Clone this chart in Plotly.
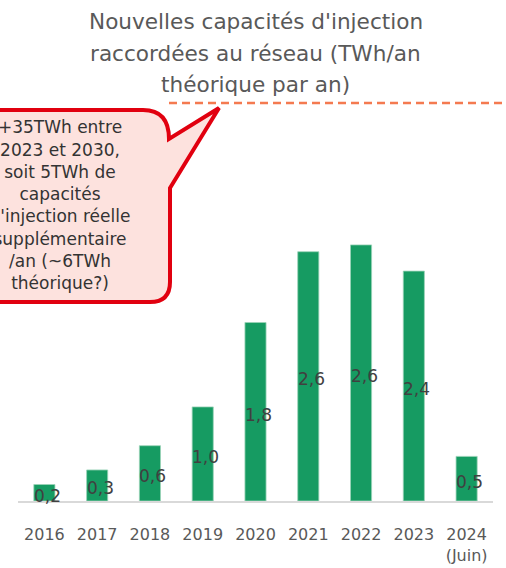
import plotly.graph_objects as go

categories = ["2016", "2017", "2018", "2019", "2020", "2021", "2022", "2023", "2024<br>(Juin)"]
values = [0.17, 0.32, 0.57, 0.97, 1.84, 2.57, 2.64, 2.37, 0.46]
labels = ["0,2", "0,3", "0,6", "1,0", "1,8", "2,6", "2,6", "2,4", "0,5"]
title_lines = ["Nouvelles capacités d'injection", "raccordées au réseau (TWh/an", "théorique par an)"]
callout_lines = ["+35TWh entre", "2023 et 2030,", "soit 5TWh de", "capacités", "d'injection réelle",
                 "supplémentaire", "/an (~6TWh", "théorique?)"]

W, H = 506, 568
PL, PR, PT, PB = 18, 493, 103, 501  # plot area in pixels
FONT = "DejaVu Sans"
PXU = 97  # pixels per TWh

pos = list(range(len(categories)))

fig = go.Figure()
fig.add_trace(go.Bar(
    x=pos, y=values, xaxis="x", yaxis="y",
    marker=dict(color="#169B62", line=dict(color="#9ad3b8", width=0.8)),
    hoverinfo="skip",
))

for p, v, t in zip(pos, values, labels):
    fig.add_annotation(x=p, y=v / 2, xref="x", yref="y", text=t, showarrow=False, xshift=3, yshift=-3,
                       font=dict(family=FONT, size=17, color="#404040"))

# title lines (paper = whole figure since margins are zero)
for i, line in enumerate(title_lines):
    fig.add_annotation(xref="paper", yref="paper", x=256 / W, y=1 - (21 + 32 * i) / H, text=line,
                       showarrow=False, xanchor="center", yanchor="middle",
                       font=dict(family=FONT, size=21.6, color="#595959"))

# dashed target line
fig.add_shape(type="line", xref="x2", yref="y2", x0=169, x1=W, y0=PT, y1=PT, layer="below",
              line=dict(color="#F47A50", width=2.5, dash="8px,5px"))

# callout bubble (pixel-space overlay axes)
segs = [
    ("M", (-60, 110)), ("L", (143, 110)), ("Q", (169, 110), (169, 139)),
    ("L", (219, 108)), ("L", (170, 188)), ("L", (170, 282)),
    ("Q", (170, 302), (150, 302)), ("L", (-60, 302)),
]
path = " ".join(seg[0] + " " + " ".join(f"{p[0]},{p[1]}" for p in seg[1:]) for seg in segs) + " Z"
fig.add_shape(type="path", xref="x2", yref="y2", path=path, layer="below",
              fillcolor="#FDE2DE", line=dict(color="#E1000F", width=4))

fig.add_trace(go.Scatter(
    x=[60] * len(callout_lines), y=[129 + 22.3 * i for i in range(len(callout_lines))],
    xaxis="x2", yaxis="y2", mode="text", text=callout_lines, textposition="middle center",
    textfont=dict(family=FONT, size=17, color="#333333"), cliponaxis=True, hoverinfo="skip",
))

fig.update_layout(
    width=W, height=H,
    margin=dict(l=0, r=0, t=0, b=0),
    paper_bgcolor="white", plot_bgcolor="rgba(0,0,0,0)",
    bargap=0.6, showlegend=False,
    font=dict(family=FONT),
    xaxis=dict(domain=[PL / W, PR / W], anchor="y", range=[-0.5, len(categories) - 0.5],
               tickmode="array", tickvals=pos, ticktext=categories,
               showline=True, linecolor="#D9D9D9", linewidth=1.5, showgrid=False, zeroline=False,
               tickfont=dict(family=FONT, size=16, color="#595959"),
               ticks="", ticklabelstandoff=18, fixedrange=True),
    yaxis=dict(domain=[1 - PB / H, 1 - PT / H], anchor="x",
               range=[0, (PB - PT) / PXU], visible=False, fixedrange=True),
    xaxis2=dict(domain=[0, 1], range=[0, W], visible=False, anchor="y2", fixedrange=True),
    yaxis2=dict(domain=[0, 1], range=[H, 0], visible=False, anchor="x2", fixedrange=True),
)

fig.write_html("out.html", config={"displayModeBar": False},
               post_script="document.body.style.margin='0';")
